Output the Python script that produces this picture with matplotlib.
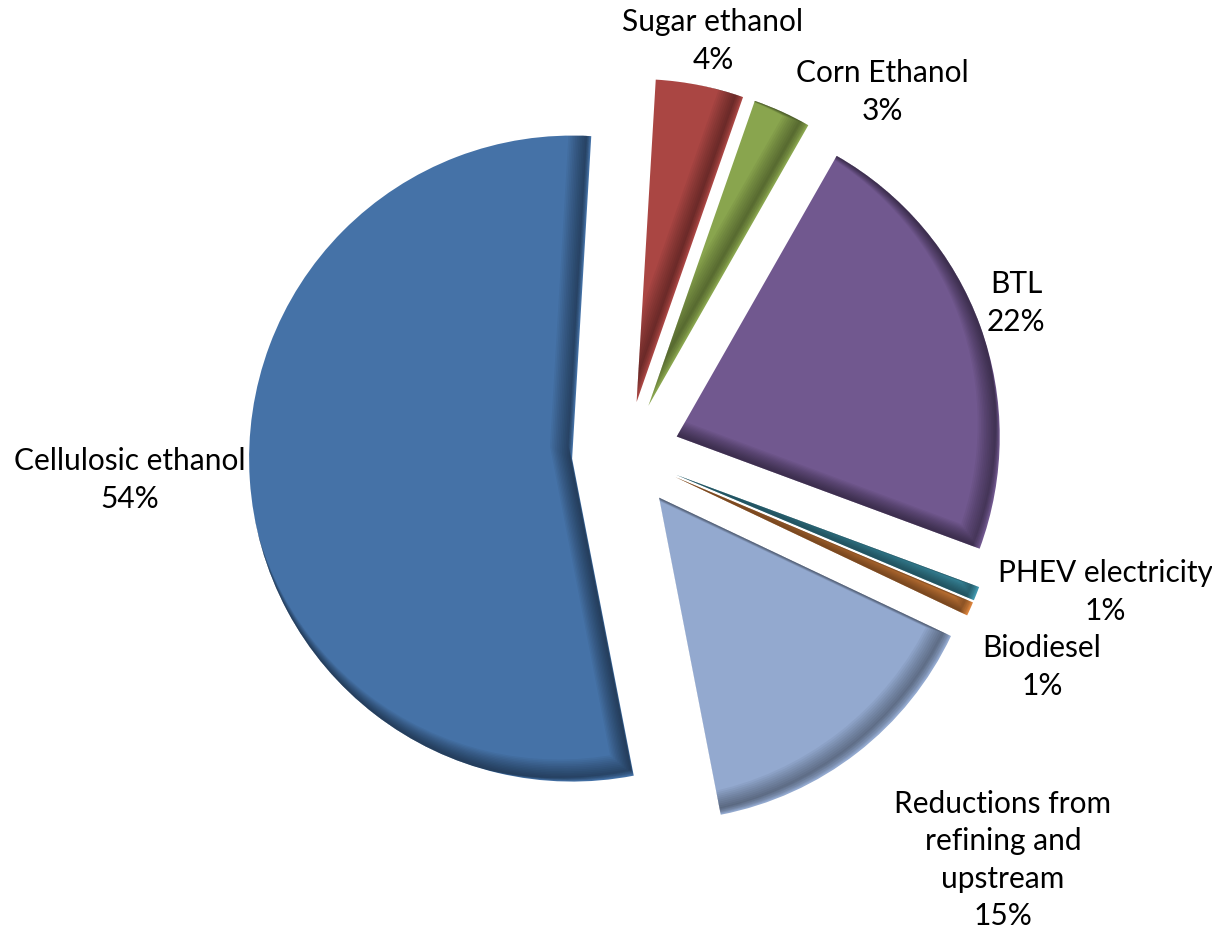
import matplotlib
matplotlib.use("Agg")
import matplotlib.pyplot as plt
from matplotlib.patches import Wedge
from matplotlib.transforms import Affine2D

# ---- data ----
categories = ["Sugar ethanol", "Corn Ethanol", "BTL", "PHEV electricity",
              "Biodiesel", "Reductions from\nrefining and\nupstream",
              "Cellulosic ethanol"]
shares = [4.4, 2.9, 22.4, 0.7, 0.7, 14.9, 54.0]
pct_labels = ["4%", "3%", "22%", "1%", "1%", "15%", "54%"]
colors = ["#AA4643", "#89A54E", "#71588F", "#4198AF", "#DB843D",
          "#93A9CF", "#4572A7"]

# ---- layout (pixels) ----
W, H = 1212, 930
CX, CY = 626, 455          # pie centre (px from top-left)
R = 323                    # radius px
EXPL = 54 / R

label_pos = [(713, 41), (882, 92), (1016, 303), (1105, 592),
             (1042, 667), (1003, 860), (130, 480)]

plt.rcParams["font.family"] = ["Lato", "DejaVu Sans"]

fig = plt.figure(figsize=(W / 100, H / 100), dpi=100)
ax = fig.add_axes([0, 0, 1, 1])

wedges, _ = ax.pie(shares, colors=colors, startangle=86.6, counterclock=False,
                   explode=[EXPL] * len(shares), radius=1, center=(0, 0),
                   wedgeprops=dict(linewidth=0))

ax.set_xlim(-CX / R, (W - CX) / R)
ax.set_ylim(-(H - CY) / R, CY / R)
ax.set_aspect("equal")
ax.axis("off")

# inner bevel shadow on right/bottom edges
for w in wedges:
    for m in range(2, 14):
        sh = Wedge(w.center, w.r, w.theta1, w.theta2, fill=False,
                   edgecolor="black", linewidth=2 * 0.7 * m * 72 / 100,
                   alpha=0.045,
                   transform=ax.transData + Affine2D().translate(-1.0 * m, 1.0 * m))
        sh.set_clip_path(w)
        ax.add_patch(sh)

for (x, y), cat, pct in zip(label_pos, categories, pct_labels):
    fig.text(x / W, 1 - y / H, f"{cat}\n{pct}", ha="center", va="center",
             fontsize=21.5, color="black", linespacing=1.4)

fig.savefig("out.png", dpi=100)
